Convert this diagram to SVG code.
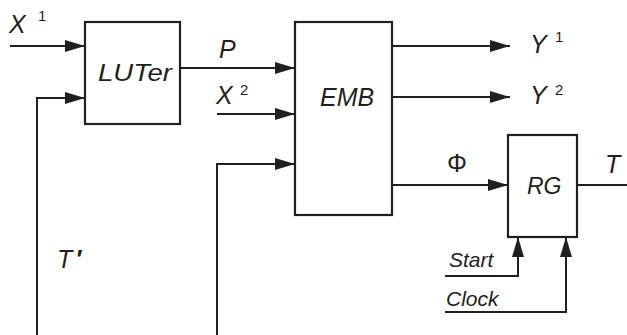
<svg xmlns="http://www.w3.org/2000/svg" width="627" height="335" viewBox="0 0 627 335">
<defs>
<marker id="ah" markerWidth="20" markerHeight="12" refX="20" refY="6" orient="auto" markerUnits="userSpaceOnUse">
<path d="M0,0 L20,6 L0,12 Z" fill="#231f20"/>
</marker>
</defs>
<style>
.box{fill:#fff;stroke:#231f20;stroke-width:2.2}
.ln{fill:none;stroke:#231f20;stroke-width:2}
.ar{marker-end:url(#ah)}
text{font-family:"Liberation Sans",Arial,sans-serif;fill:#231f20}
.it{font-style:italic}
.lb{font-size:25px}
.sup{font-size:15px}
.sm{font-size:21px}
</style>
<rect width="627" height="335" fill="#fff"/>
<g id="connectors">
<path class="ln ar" d="M10,46 H85"/>
<path class="ln ar" d="M37,335 V98 H85"/>
<path class="ln ar" d="M180,68 H295"/>
<path class="ln ar" d="M217,114 H295"/>
<path class="ln ar" d="M217,335 V164 H295"/>
<path class="ln ar" d="M392,46 H510"/>
<path class="ln ar" d="M392,97 H510"/>
<path class="ln ar" d="M392,185 H508"/>
<path class="ln" d="M577,185 H627"/>
<path class="ln ar" d="M445,276 H518 V237"/>
<path class="ln ar" d="M445,312 H566 V237"/>
</g>
<g id="LUTer">
<rect class="box" x="85" y="22" width="95" height="102"/>
<text class="it" x="98" y="81" font-size="23" textLength="74" lengthAdjust="spacingAndGlyphs">LUTer</text>
</g>
<g id="EMB">
<rect class="box" x="295" y="22" width="97" height="193"/>
<text class="it" x="320" y="106" font-size="25">EMB</text>
</g>
<g id="RG">
<rect class="box" x="508" y="135" width="69" height="102"/>
<text class="it" x="527" y="194" font-size="23">RG</text>
</g>
<g id="labels">
<text class="it lb" x="9" y="33">X<tspan class="sup" font-style="normal" x="38" y="21">1</tspan></text>
<text class="it lb" x="219" y="58">P</text>
<text class="it lb" x="216" y="104">X<tspan class="sup" font-style="normal" x="240" y="95">2</tspan></text>
<text class="it lb" x="530" y="53">Y<tspan class="sup" font-style="normal" x="555" y="42">1</tspan></text>
<text class="it lb" x="530" y="104">Y<tspan class="sup" font-style="normal" x="555" y="95">2</tspan></text>
<text class="lb" x="447" y="172">Φ</text>
<text class="it lb" x="605" y="173">T</text>
<text class="it lb" x="57" y="268">T<tspan font-weight="bold" dx="3">′</tspan></text>
<text class="it sm" x="449" y="267">Start</text>
<text class="it sm" x="446" y="306">Clock</text>
</g>
</svg>
